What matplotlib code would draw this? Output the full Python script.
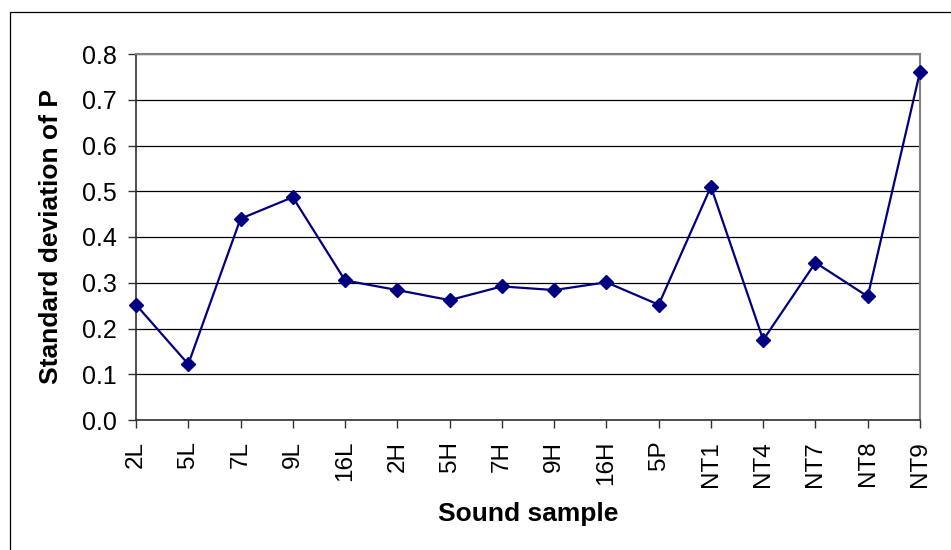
import matplotlib
matplotlib.use('Agg')
import matplotlib.pyplot as plt
from matplotlib.patches import Rectangle

plt.rcParams['font.family'] = ['Liberation Sans', 'DejaVu Sans']

samples = ['2L', '5L', '7L', '9L', '16L', '2H', '5H', '7H', '9H', '16H',
           '5P', 'NT1', 'NT4', 'NT7', 'NT8', 'NT9']
std_p = [0.252, 0.122, 0.440, 0.487, 0.305, 0.284, 0.262, 0.292, 0.284,
         0.301, 0.252, 0.510, 0.175, 0.344, 0.270, 0.761]
y_ticks = [0.0, 0.1, 0.2, 0.3, 0.4, 0.5, 0.6, 0.7, 0.8]

W, H = 951, 550
fig = plt.figure(figsize=(W / 100, H / 100), dpi=100)
ax = fig.add_axes([136 / W, 130 / H, 784 / W, 366 / H])

# chart frame, running off the right and bottom edges
fig.patches.append(Rectangle((10 / W, -0.5), 2, 1.5 - 12 / H,
                             transform=fig.transFigure, fill=False,
                             edgecolor='black', linewidth=0.9))

x = list(range(len(samples)))
ax.plot(x, std_p, color='#000080', linewidth=1.6, marker='D',
        markersize=7.5, zorder=3, clip_on=False)

ax.set_xlim(0, len(samples) - 1)
ax.set_ylim(0, 0.8)
ax.set_yticks(y_ticks)
ax.set_yticklabels(['%.1f' % v for v in y_ticks])
ax.set_xticks(x)
ax.set_xticklabels(samples, rotation=90)

ax.yaxis.grid(True, color='black', linewidth=0.9)
ax.set_axisbelow(True)

ax.spines['top'].set_color('#808080')
ax.spines['right'].set_color('#808080')
ax.spines['top'].set_linewidth(1.5)
ax.spines['right'].set_linewidth(1.5)
ax.spines['left'].set_color('#303030')
ax.spines['bottom'].set_color('#303030')
ax.spines['left'].set_linewidth(1.2)
ax.spines['bottom'].set_linewidth(1.2)

ax.tick_params(axis='y', length=6, width=1, pad=8, labelsize=18,
               color='#303030')
ax.tick_params(axis='x', length=6, width=1, pad=9, labelsize=17.5,
               color='#303030')

ax.set_xlabel('Sound sample', fontsize=19, fontweight='bold', va='center')
ax.set_ylabel('Standard deviation of P', fontsize=19, fontweight='bold',
              va='center')
ax.xaxis.set_label_coords(0.5, (420 - 514) / 366)
ax.yaxis.set_label_coords((51 - 136) / 784, 0.5)

plt.savefig('out.png', dpi=100)
plt.close(fig)
